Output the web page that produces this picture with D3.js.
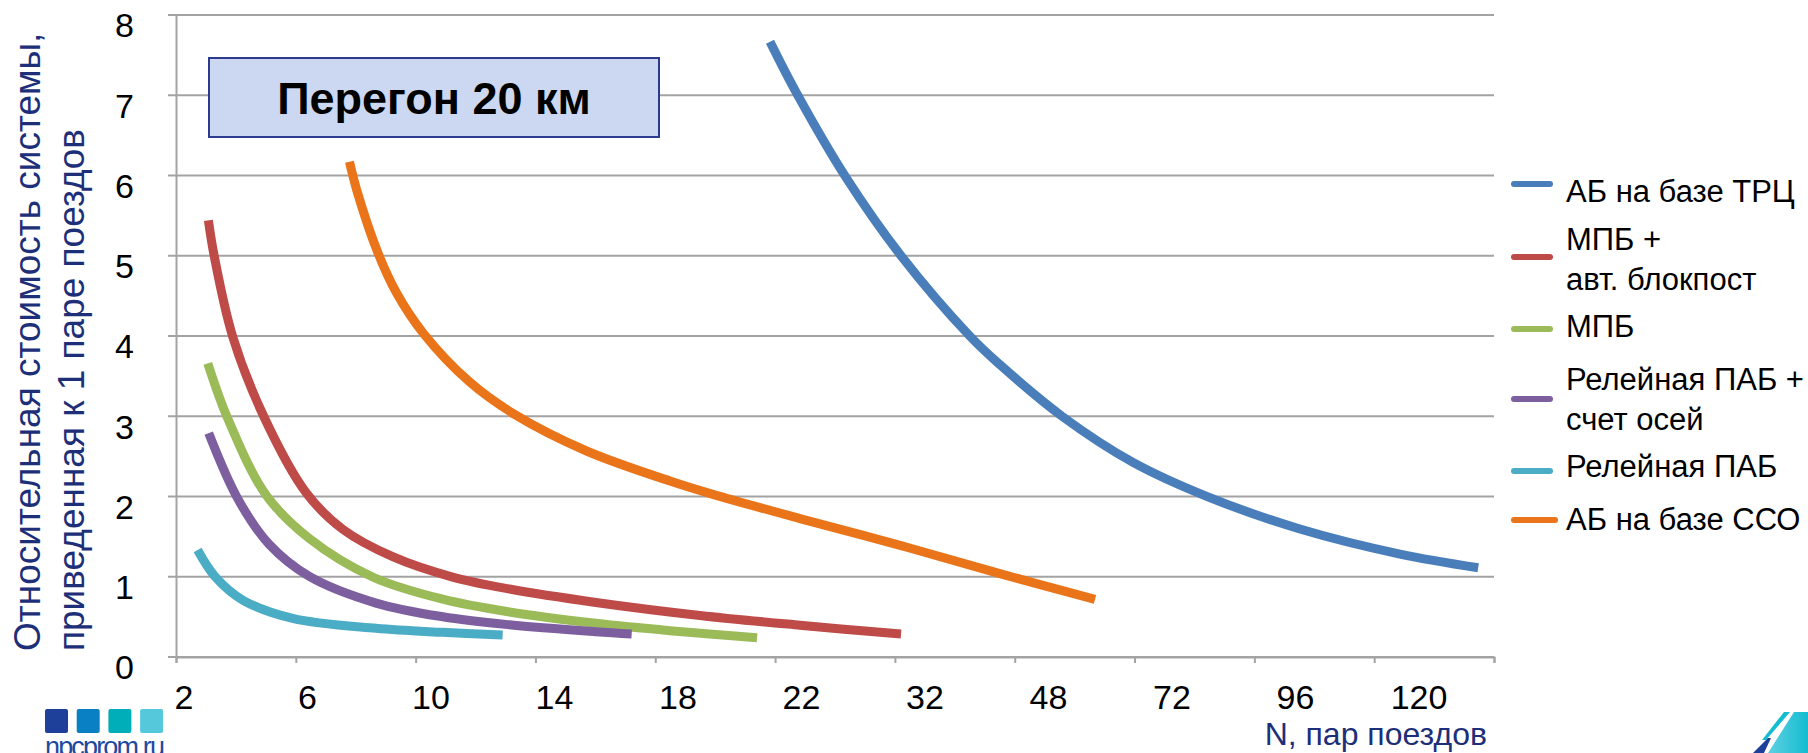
<!DOCTYPE html>
<html>
  <head>
    <meta charset="utf-8" />
    <title>Перегон 20 км</title>
    <style>
      body{
        margin: 0;
        background: #ffffff;
        font-family: 'Liberation Sans', Arial, sans-serif;
      }
      .grid line{
        stroke: #a3a3a3;
        stroke-width: 2;
      }
      .series{
        fill: none;
        stroke-width: 9;
      }
    </style>
  </head>
  <body>
    <script src="https://d3js.org/d3.v7.min.js"></script>
    <svg id="chart"></svg>
    <script>
      // values
      var yTicks = [0, 1, 2, 3, 4, 5, 6, 7, 8];
      var nLabels = [2, 6, 10, 14, 18, 22, 32, 48, 72, 96, 120];

      var trcN = [20.98, 21.85, 25.6, 30.06, 37.83, 41.71, 50.62, 64.42, 78.74, 96.86, 116.3, 131.5];
      var trcV = [7.667, 7.02, 5.976, 5.0, 3.997, 3.642, 3.0, 2.425, 2.002, 1.595, 1.283, 1.113];

      var mpbBlockN = [2.79, 2.97, 3.58, 4.6, 5.95, 7.14, 8.76, 10.7, 12.54, 15.34, 18.71, 21.95, 30.06];
      var mpbBlockV = [5.44, 5.013, 3.988, 2.984, 2.05, 1.592, 1.25, 0.996, 0.847, 0.68, 0.518, 0.396, 0.286];

      var mpbN = [2.77, 3.42, 4.66, 6.06, 8.11, 10.38, 12.54, 15.34, 17.74, 20.56];
      var mpbV = [3.66, 2.968, 2.018, 1.476, 0.997, 0.72, 0.561, 0.42, 0.328, 0.24];

      var pabAxleN = [2.8, 3.74, 4.76, 6.06, 8.22, 10.38, 12.54, 15.34, 16.5];
      var pabAxleV = [2.79, 1.974, 1.403, 1.004, 0.672, 0.501, 0.401, 0.315, 0.287];

      var pabN = [2.44, 3.01, 3.9, 5.52, 8.22, 10.38, 12.32];
      var pabV = [1.333, 1.0, 0.71, 0.48, 0.357, 0.307, 0.274];

      var ssoN = [7.36, 7.59, 8.27, 8.89, 9.75, 11.26, 12.72, 15.04, 17.74, 19.13, 21.95, 30.06, 41.7, 57.04];
      var ssoV = [6.17, 5.824, 5.047, 4.532, 4.035, 3.424, 3.02, 2.567, 2.193, 2.027, 1.725, 1.388, 1.039, 0.719];

      var seriesNames = [
        ["АБ на базе ТРЦ"],
        ["МПБ +", "авт. блокпост"],
        ["МПБ"],
        ["Релейная ПАБ +", "счет осей"],
        ["Релейная ПАБ"],
        ["АБ на базе ССО"]
      ];
      var seriesColors = ["#4a7ebb", "#be4b48", "#9bbb59", "#7d5fa0", "#4bacc6", "#ea7419"];

      var seriesData = [
        [trcN, trcV],
        [mpbBlockN, mpbBlockV],
        [mpbN, mpbV],
        [pabAxleN, pabAxleV],
        [pabN, pabV],
        [ssoN, ssoV]
      ].map(function (s) {
        return s[0].map(function (n, i) { return { n: n, v: s[1][i] }; });
      });

      var width = 1808;
      var height = 753;
      var navy = "#1d2f78";

      var svg = d3.select("#chart")
        .attr("width", width)
        .attr("height", height)
        .style("display", "block");

      var plotLeft = 176, plotRight = 1494, plotTop = 15, plotBottom = 657;

      var y = d3.scaleLinear().domain([0, 8]).range([plotBottom, plotTop]);

      // category ticks (12 marks across the plot)
      var tickIdx = d3.scaleLinear().domain([0, 11]).range([plotLeft, plotRight]);
      // label positions, N values are placed on a piecewise scale through them
      var labelPos = d3.scaleLinear().domain([0, 10]).range([184, 1419]);
      var x = d3.scaleLinear()
        .domain(nLabels)
        .range(nLabels.map(function (d, i) { return labelPos(i); }));

      // grid
      svg.append("g")
        .attr("class", "grid")
        .selectAll("line")
        .data(yTicks)
        .enter()
        .append("line")
        .attr("x1", plotLeft - 8)
        .attr("x2", plotRight)
        .attr("y1", function (d) { return y(d); })
        .attr("y2", function (d) { return y(d); });

      // y axis
      var yAxis = svg.append("g")
        .attr("transform", "translate(" + plotLeft + ",0)")
        .call(d3.axisLeft(y).tickValues(yTicks).tickSize(0).tickPadding(42).tickFormat(d3.format("d")));
      yAxis.select(".domain").attr("stroke", "#a3a3a3").attr("stroke-width", 2);
      yAxis.selectAll("text")
        .attr("dy", "0.64em")
        .attr("fill", "#000")
        .style("font-size", "34px")
        .style("font-family", "'Liberation Sans', Arial, sans-serif");

      // x axis tick marks
      var xAxis = svg.append("g")
        .attr("transform", "translate(0," + plotBottom + ")")
        .call(d3.axisBottom(tickIdx).ticks(11).tickSize(6).tickFormat(""));
      xAxis.select(".domain").attr("stroke", "#a3a3a3").attr("stroke-width", 2);
      xAxis.selectAll(".tick line").attr("stroke", "#a3a3a3").attr("stroke-width", 2);

      svg.append("g")
        .selectAll("text")
        .data(nLabels)
        .enter()
        .append("text")
        .attr("x", function (d) { return x(d); })
        .attr("y", 709)
        .attr("text-anchor", "middle")
        .style("font-size", "34px")
        .text(function (d) { return d; });

      // axis titles
      var yTitle = svg.append("text")
        .attr("transform", "translate(40,651) rotate(-90)")
        .attr("fill", navy)
        .style("font-size", "37px");
      yTitle.append("tspan").attr("x", 0).attr("y", 0).text("Относительная стоимость системы,");
      yTitle.append("tspan").attr("x", 0).attr("y", 44).text("приведенная к 1 паре поездов");

      svg.append("text")
        .attr("x", 1487)
        .attr("y", 745)
        .attr("text-anchor", "end")
        .attr("fill", navy)
        .style("font-size", "32px")
        .text("N, пар поездов");

      // curves
      var line = d3.line()
        .x(function (d) { return x(d.n); })
        .y(function (d) { return y(d.v); })
        .curve(d3.curveCatmullRom.alpha(0.5));

      svg.append("g")
        .selectAll("path")
        .data(seriesData)
        .enter()
        .append("path")
        .attr("class", "series")
        .attr("stroke", function (d, i) { return seriesColors[i]; })
        .attr("d", line);

      // title box
      svg.append("rect")
        .attr("x", 209)
        .attr("y", 58)
        .attr("width", 450)
        .attr("height", 79)
        .attr("fill", "#ccd8f1")
        .attr("stroke", "#2c3b8d")
        .attr("stroke-width", 2);
      svg.append("text")
        .attr("x", 434)
        .attr("y", 114)
        .attr("text-anchor", "middle")
        .style("font-size", "45px")
        .style("font-weight", "bold")
        .text("Перегон 20 км");

      // legend
      var legendLineY = [184, 257, 329, 399, 471, 520];
      var legendTextY = [202, 250, 337, 390, 477, 530];
      var legend = svg.append("g")
        .selectAll("g")
        .data(seriesNames)
        .enter()
        .append("g");
      legend.append("line")
        .attr("x1", 1514)
        .attr("x2", function (d, i) { return i === 5 ? 1555 : 1550; })
        .attr("y1", function (d, i) { return legendLineY[i]; })
        .attr("y2", function (d, i) { return legendLineY[i]; })
        .attr("stroke", function (d, i) { return seriesColors[i]; })
        .attr("stroke-width", 6)
        .attr("stroke-linecap", "round");
      legend.append("text")
        .attr("y", function (d, i) { return legendTextY[i]; })
        .style("font-size", "31px")
        .selectAll("tspan")
        .data(function (d) { return d; })
        .enter()
        .append("tspan")
        .attr("x", 1566)
        .attr("dy", function (d, i) { return i === 0 ? 0 : 40; })
        .text(function (d) { return d; });

      // logos
      var logoColors = ["#1e3f9a", "#0a80c4", "#00aeba", "#55c8dc"];
      svg.append("g")
        .selectAll("rect")
        .data(logoColors)
        .enter()
        .append("rect")
        .attr("x", function (d, i) { return 45 + i * 31.7; })
        .attr("y", 709)
        .attr("width", 23)
        .attr("height", 24)
        .attr("rx", 2)
        .attr("fill", function (d) { return d; });
      svg.append("text")
        .attr("x", 45)
        .attr("y", 756)
        .attr("fill", "#1e49a0")
        .attr("textLength", 120)
        .style("font-size", "27px")
        .text("npcprom.ru");

      var grad = svg.append("defs").append("linearGradient")
        .attr("id", "logoGrad")
        .attr("x1", "0%").attr("x2", "100%");
      grad.append("stop").attr("offset", "0%").attr("stop-color", "#5fd0e2");
      grad.append("stop").attr("offset", "100%").attr("stop-color", "#14bcd0");
      svg.append("polygon")
        .attr("points", "1794,712 1808,712 1808,753 1768,753")
        .attr("fill", "url(#logoGrad)");
      svg.append("polygon")
        .attr("points", "1784,712 1790,712 1766,740 1762,740")
        .attr("fill", "#14bcd0");
      svg.append("polygon")
        .attr("points", "1768,738 1771,738 1764,753 1753,753")
        .attr("fill", "#1e3f9a");
    </script>
  </body>
</html>
